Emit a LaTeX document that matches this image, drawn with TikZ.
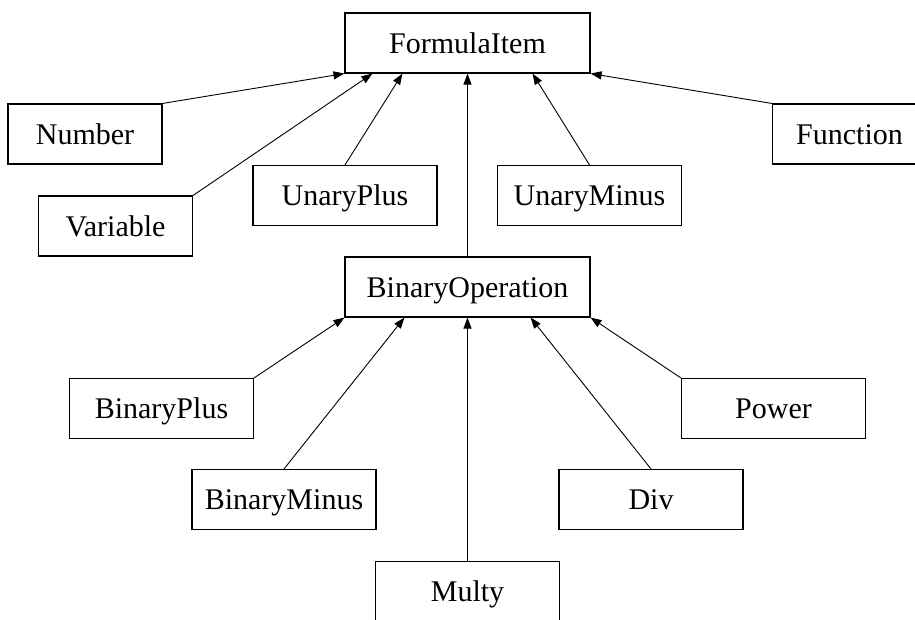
\documentclass[tikz,border=0pt]{standalone}
\usepackage{fontspec}
\setmainfont{Liberation Serif}
\usetikzlibrary{arrows.meta}
\begin{document}
\begin{tikzpicture}[x=1pt,y=-1pt,
  cls/.style={draw, line width=1.1pt, inner sep=0pt, minimum height=60pt,
    text height=20pt, text depth=0pt,
    font=\fontsize{30}{36}\selectfont},
  wide/.style={cls, minimum width=245pt},
  mid/.style={cls, minimum width=184pt},
  small/.style={cls, minimum width=154pt},
  inh/.style={line width=0.9pt, -{Triangle[length=11pt,width=8pt]}}]
\useasboundingbox (0,0) rectangle (915,619);
\clip (0,0) rectangle (915,619);
\node[wide]  (fi) at (467.5,43)  {FormulaItem};
\node[small] (num) at (85,134)   {Number};
\node[small] (var) at (115.5,226) {Variable};
\node[mid]   (up) at (345,195.5) {UnaryPlus};
\node[mid]   (um) at (589.5,195.5) {UnaryMinus};
\node[small] (fn) at (849.5,134) {Function};
\node[wide]  (bo) at (467.5,287) {BinaryOperation};
\node[mid]   (bp) at (161.5,408.5) {BinaryPlus};
\node[mid]   (pw) at (773.5,408.5) {Power};
\node[mid]   (bm) at (284,499.5) {BinaryMinus};
\node[mid]   (dv) at (651,499.5) {Div};
\node[mid]   (mu) at (467.5,591.5) {Multy};

\draw[inh] (num.north east) -- (fi.south west);
\draw[inh] (var.north east) -- ([xshift=28pt]fi.south west);
\draw[inh] (up.north) -- ([xshift=58pt]fi.south west);
\draw[inh] (bo.north) -- (fi.south);
\draw[inh] (um.north) -- ([xshift=-58pt]fi.south east);
\draw[inh] (fn.north west) -- (fi.south east);

\draw[inh] (bp.north east) -- (bo.south west);
\draw[inh] (bm.north) -- ([xshift=60pt]bo.south west);
\draw[inh] (mu.north) -- (bo.south);
\draw[inh] (dv.north) -- ([xshift=-60pt]bo.south east);
\draw[inh] (pw.north west) -- (bo.south east);
\end{tikzpicture}
\end{document}
